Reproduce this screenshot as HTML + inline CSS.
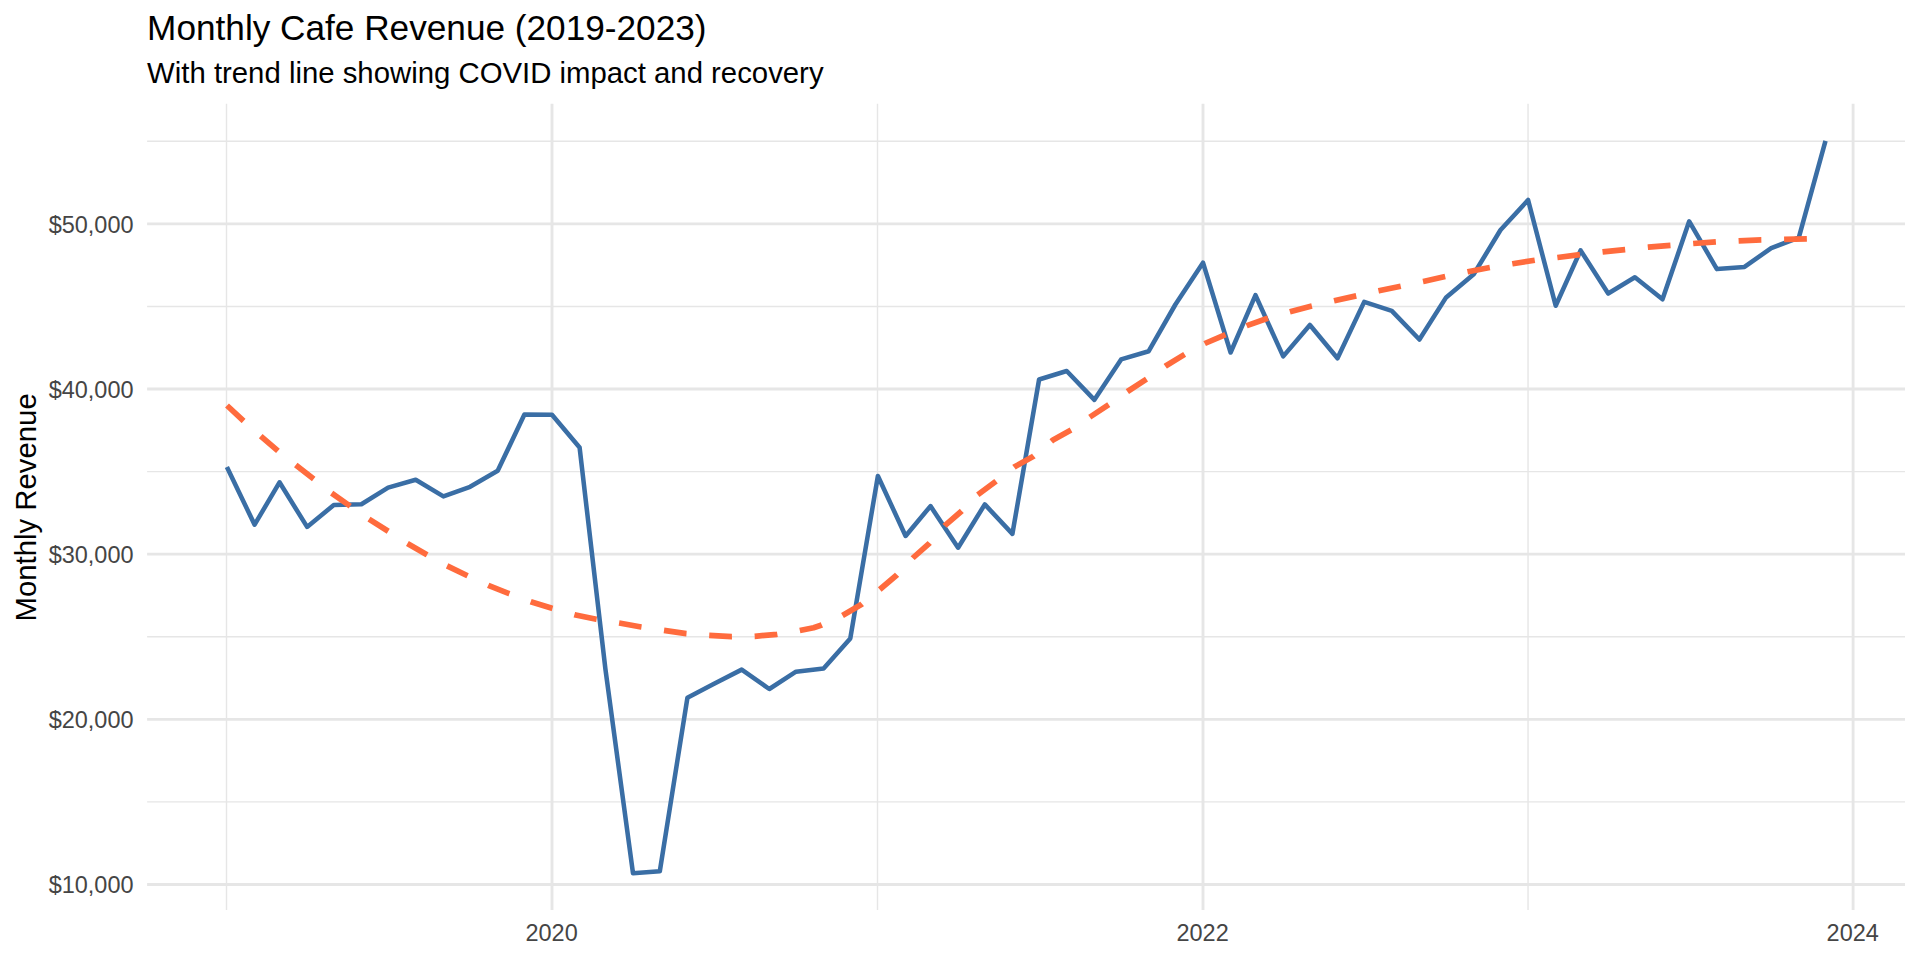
<!DOCTYPE html>
<html lang="en"><head><meta charset="utf-8"><title>Monthly Cafe Revenue (2019-2023)</title>
<style>html,body{margin:0;padding:0;background:#fff;}body{width:1920px;height:960px;overflow:hidden;}svg{display:block;}text{font-family:"Liberation Sans",sans-serif;}</style></head><body>
<svg width="1920" height="960" viewBox="0 0 1920 960">
<rect width="1920" height="960" fill="#ffffff"/>
<g stroke="#E6E6E6" stroke-width="1.42" fill="none">
<line x1="147.1" x2="1905.0" y1="801.88" y2="801.88"/>
<line x1="147.1" x2="1905.0" y1="636.74" y2="636.74"/>
<line x1="147.1" x2="1905.0" y1="471.60" y2="471.60"/>
<line x1="147.1" x2="1905.0" y1="306.46" y2="306.46"/>
<line x1="147.1" x2="1905.0" y1="141.32" y2="141.32"/>
<line x1="226.50" x2="226.50" y1="103.75" y2="910.0"/>
<line x1="877.50" x2="877.50" y1="103.75" y2="910.0"/>
<line x1="1528.05" x2="1528.05" y1="103.75" y2="910.0"/>
</g>
<g stroke="#E6E6E6" stroke-width="2.85" fill="none">
<line x1="147.1" x2="1905.0" y1="884.45" y2="884.45"/>
<line x1="147.1" x2="1905.0" y1="719.31" y2="719.31"/>
<line x1="147.1" x2="1905.0" y1="554.17" y2="554.17"/>
<line x1="147.1" x2="1905.0" y1="389.03" y2="389.03"/>
<line x1="147.1" x2="1905.0" y1="223.89" y2="223.89"/>
<line x1="552.00" x2="552.00" y1="103.75" y2="910.0"/>
<line x1="1203.00" x2="1203.00" y1="103.75" y2="910.0"/>
<line x1="1853.10" x2="1853.10" y1="103.75" y2="910.0"/>
</g>
<polyline points="226.9,467.0 254.6,524.7 279.5,482.3 307.1,526.9 333.8,505.0 361.4,504.2 388.1,487.6 415.7,479.7 443.4,496.4 470.1,486.8 497.7,470.8 524.4,414.5 552.0,414.7 579.6,447.5 605.4,669.0 633.0,873.2 659.8,871.3 687.4,697.8 714.1,683.7 741.7,669.6 769.3,689.0 796.0,671.7 823.6,668.6 850.3,638.4 877.9,476.0 905.6,536.0 930.5,506.1 958.1,547.7 984.8,504.4 1012.4,533.9 1039.1,379.5 1066.7,371.0 1094.4,399.8 1121.1,359.4 1148.7,351.2 1175.4,304.5 1203.0,262.7 1230.6,352.5 1255.5,295.2 1283.2,356.4 1309.9,325.0 1337.5,358.3 1364.2,301.9 1391.8,310.8 1419.4,339.5 1446.1,297.4 1473.7,274.2 1500.5,230.0 1528.1,200.0 1555.7,305.8 1580.6,250.4 1608.2,293.5 1634.9,277.3 1662.5,299.3 1689.2,221.3 1716.9,269.1 1744.5,266.9 1771.2,248.1 1798.8,237.7 1825.5,140.9" fill="none" stroke="#3A6EA5" stroke-width="4.55" stroke-linejoin="round" stroke-linecap="butt"/>
<polyline points="227.0,405.5 243.5,420.8 260.2,435.6 278.0,451.0 295.0,464.5 314.2,479.5 330.8,492.5 350.0,506.0 368.3,518.7 388.3,531.3 407.0,543.3 426.5,554.5 447.0,565.8 467.0,575.5 488.3,585.3 509.2,593.7 530.8,601.7 552.0,608.3 574.5,614.7 596.3,619.3 619.2,623.0 641.2,627.0 663.8,630.3 686.2,633.6 709.2,635.4 731.7,636.7 754.7,636.3 777.0,634.3 799.7,630.6 813.6,627.7 821.7,625.0 842.2,615.6 861.7,604.2 879.5,589.7 896.8,575.0 912.8,558.0 929.3,543.3 944.8,525.6 961.7,511.0 977.7,494.8 996.0,481.3 1014.2,467.1 1033.5,456.2 1053.0,440.0 1071.9,429.6 1090.0,417.0 1108.8,404.6 1127.5,391.5 1146.5,379.2 1165.6,366.0 1185.0,354.2 1204.8,343.5 1225.6,334.5 1246.9,325.6 1267.7,318.3 1290.0,311.8 1311.8,306.1 1334.2,300.8 1356.5,295.8 1378.8,290.8 1400.8,286.2 1423.3,281.5 1445.4,276.5 1467.9,271.7 1489.8,267.5 1512.7,263.7 1535.0,260.2 1557.6,257.5 1580.0,254.6 1602.9,251.9 1625.0,249.6 1648.3,247.2 1670.4,245.4 1693.5,243.5 1716.0,241.9 1739.0,240.8 1761.2,239.8 1784.2,239.3 1807.0,238.8 1825.1,238.5" fill="none" stroke="#FF6B3D" stroke-width="5.69" stroke-dasharray="22.76 22.76" stroke-linejoin="round" stroke-linecap="butt"/>
<g font-size="23.47" fill="#454545" text-anchor="end">
<text x="133.5" y="893">$10,000</text>
<text x="133.5" y="728">$20,000</text>
<text x="133.5" y="563">$30,000</text>
<text x="133.5" y="398">$40,000</text>
<text x="133.5" y="233">$50,000</text>
</g>
<g font-size="23.47" fill="#454545" text-anchor="middle">
<text x="551.60" y="941">2020</text>
<text x="1202.60" y="941">2022</text>
<text x="1852.71" y="941">2024</text>
</g>
<text x="147.1" y="40" font-size="35.2" fill="#000">Monthly Cafe Revenue (2019-2023)</text>
<text x="147.1" y="82.5" font-size="29.33" fill="#000">With trend line showing COVID impact and recovery</text>
<text transform="translate(36 507.4) rotate(-90)" text-anchor="middle" font-size="29.33" fill="#000">Monthly Revenue</text>
</svg></body></html>
